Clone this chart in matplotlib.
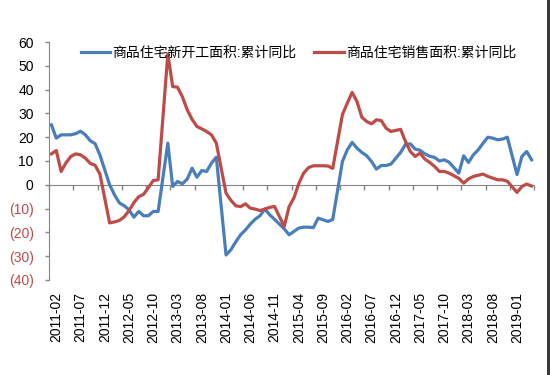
import matplotlib
matplotlib.use('Agg')
import matplotlib.pyplot as plt
import pandas as pd
from matplotlib.transforms import ScaledTranslation
from matplotlib.patches import Rectangle

plt.rcParams['font.family'] = ['Liberation Sans', 'Noto Sans CJK SC', 'DejaVu Sans']

# monthly axis 2011-02 .. 2019-05 (January values are not published)
all_months = [d.strftime('%Y-%m') for d in pd.date_range('2011-02-01', '2019-05-01', freq='MS')]
months = [m for m in all_months if not m.endswith('-01')]

new_starts = [
    25.2, 19.6, 21.0, 21.0, 21.0, 21.5, 22.5, 21.0, 18.5, 17.3, 12.5,          # 2011
    0.0, -4.2, -7.6, -8.8, -10.5, -13.6, -11.2, -13.0, -13.0, -11.2, -11.2,    # 2012
    17.5, -0.7, 1.4, 0.4, 2.4, 7.0, 3.2, 6.0, 5.6, 9.1, 11.6,                  # 2013
    -29.5, -27.3, -24.0, -21.0, -19.0, -16.5, -14.5, -13.0, -10.2, -12.6, -14.5,  # 2014
    -18.5, -21.0, -19.6, -18.2, -17.8, -17.8, -18.0, -14.0, -14.7, -15.4, -14.6,  # 2015
    9.8, 14.7, 17.8, 15.4, 13.6, 12.2, 9.8, 6.6, 8.1, 8.1, 8.7,                # 2016
    13.6, 17.0, 17.2, 15.0, 14.5, 13.0, 12.0, 11.5, 10.0, 10.5, 9.5,           # 2017
    4.9, 12.2, 9.4, 12.6, 14.7, 17.5, 20.0, 19.6, 18.9, 19.2, 20.0,            # 2018
    4.3, 11.9, 14.0, 10.5,                                                     # 2019
]

sales = [
    13.0, 14.4, 5.6, 9.2, 11.9, 13.0, 12.6, 11.2, 9.0, 8.2, 4.5,               # 2011
    -16.0, -15.6, -15.0, -13.5, -10.8, -7.5, -5.0, -4.0, -1.2, 1.8, 2.1,       # 2012
    55.0, 41.3, 41.0, 37.0, 31.5, 27.5, 24.5, 23.5, 22.4, 21.0, 17.5,          # 2013
    -3.5, -6.5, -8.8, -9.2, -8.0, -9.8, -10.2, -10.8, -10.2, -9.5, -9.1,       # 2014
    -17.5, -9.2, -5.5, 0.5, 4.9, 7.2, 8.0, 8.0, 8.0, 7.9, 6.9,                 # 2015
    29.5, 34.3, 38.8, 35.0, 28.4, 26.6, 25.6, 27.3, 27.0, 23.8, 22.4,          # 2016
    23.3, 18.2, 14.0, 11.9, 13.3, 10.8, 9.4, 7.7, 5.6, 5.6, 4.9,               # 2017
    2.7, 0.7, 2.5, 3.5, 4.0, 4.5, 3.5, 2.8, 2.1, 2.1, 1.5,                     # 2018
    -3.2, -0.7, 0.3, -0.5,                                                     # 2019
]

series_names = ['商品住宅新开工面积:累计同比', '商品住宅销售面积:累计同比']
tick_labels = ['2011-02', '2011-07', '2011-12', '2012-05', '2012-10', '2013-03',
               '2013-08', '2014-01', '2014-06', '2014-11', '2015-04', '2015-09',
               '2016-02', '2016-07', '2016-12', '2017-05', '2017-10', '2018-03',
               '2018-08', '2019-01']
y_ticks = [60, 50, 40, 30, 20, 10, 0, -10, -20, -30, -40]

BLUE = '#4A7EBB'
RED = '#BE4B48'
GREY = '#868686'

pos = [all_months.index(m) + 0.5 for m in months]

fig = plt.figure(figsize=(5.5, 3.75), dpi=100)
fig.patch.set_facecolor('white')
ax = fig.add_axes([49 / 550, 1 - 280 / 375, 485 / 550, 238 / 375])

ax.plot(pos, new_starts, color=BLUE, lw=2.3, label=series_names[0], solid_joinstyle='round')
ax.plot(pos, sales, color=RED, lw=2.3, label=series_names[1], solid_joinstyle='round')

ax.set_xlim(0, len(all_months))
ax.set_ylim(-40, 60)

# y axis
ax.set_yticks(y_ticks)
ax.set_yticklabels([str(v) if v >= 0 else f'({-v})' for v in y_ticks])
for lab, v in zip(ax.get_yticklabels(), y_ticks):
    lab.set_color(RED if v < 0 else '#000000')
ax.tick_params(axis='y', length=3, width=1, color=GREY, pad=8, labelsize=10)

for s in ['top', 'right', 'bottom']:
    ax.spines[s].set_visible(False)
ax.spines['left'].set_color(GREY)

# category labels at the bottom
ax.set_xticks([all_months.index(l) + 0.5 for l in tick_labels])
ax.set_xticklabels(tick_labels, rotation=90)
ax.tick_params(axis='x', length=0, pad=8.5, labelsize=10)
off = ScaledTranslation(5 / 100, 0, fig.dpi_scale_trans)
for lab in ax.get_xticklabels():
    lab.set_transform(lab.get_transform() + off)

# horizontal axis line at zero with tick marks
sec = ax.secondary_xaxis(0.4)
sec.set_xticks(range(0, len(all_months) + 1, 5))
sec.set_xticklabels([])
sec.tick_params(axis='x', length=3.5, width=1, color=GREY, direction='out')
sec.spines['bottom'].set_color(GREY)
sec.spines['top'].set_visible(False)

ax.legend(loc='center left', bbox_to_anchor=(32 / 485, (280 - 52.7) / 238), ncol=2,
          frameon=False, borderpad=0, borderaxespad=0, handlelength=2.1,
          handletextpad=0.15, columnspacing=1.3, fontsize=10)

fig.add_artist(Rectangle((546.5 / 550, 0), 3.5 / 550, 1, transform=fig.transFigure,
                         color='#3a3a3a', lw=0))

fig.savefig('out.png', dpi=100, facecolor='white')
